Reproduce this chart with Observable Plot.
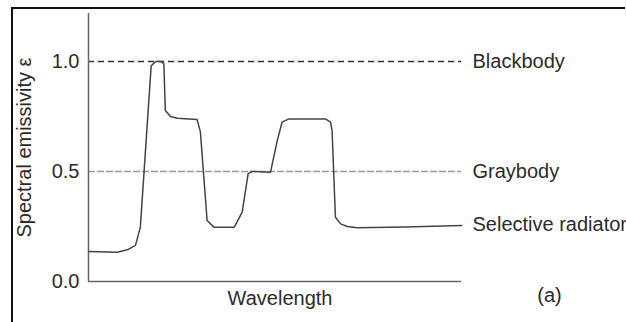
<!DOCTYPE html>
<html>
<head>
<meta charset="utf-8">
<script src="https://cdn.jsdelivr.net/npm/d3@7"></script>
<script src="https://cdn.jsdelivr.net/npm/@observablehq/plot@0.6"></script>
<style>
  html, body { margin: 0; padding: 0; background: #fff; }
  #wrap { position: relative; width: 626px; height: 322px; overflow: hidden; }
  #wrap svg { position: absolute; left: 0; top: 0; }
  #border { position: absolute; left: 11px; top: 7px; width: 612px; height: 320px;
            border-top: 2px solid #111; border-left: 2px solid #111; pointer-events: none; }
</style>
</head>
<body>
<div id="wrap"><div id="border"></div></div>
<script>
// Wavelength positions (arbitrary units, 0–100) and emissivity of the selective radiator
const wavelength = [0, 7.7, 10.4, 12.6, 13.9, 16.8, 18.0, 19.3, 20.2, 20.6, 22.0, 23.8, 29.1, 30.0, 31.8, 33.6, 39.1, 41.2, 42.8, 43.9, 48.8, 50.6, 51.9, 53.7, 63.5, 64.9, 65.3, 66.2, 67.6, 69.4, 72.0, 85.0, 100];
const emissivity = [0.136, 0.133, 0.144, 0.164, 0.247, 0.98, 1.0, 1.0, 0.99, 0.777, 0.75, 0.742, 0.736, 0.68, 0.277, 0.247, 0.247, 0.315, 0.49, 0.5, 0.497, 0.64, 0.724, 0.739, 0.739, 0.724, 0.686, 0.292, 0.262, 0.25, 0.244, 0.248, 0.254];

// Reference levels and their labels
const levelNames = ["Blackbody", "Graybody", "Selective radiator"];
const levelValues = [1.0, 0.5, 0.259];

const yTicks = [0.0, 0.5, 1.0];
const xLabel = "Wavelength";
const yLabel = "Spectral emissivity ε";
const panelLabel = "(a)";

const curve = wavelength.map((x, i) => ({x, y: emissivity[i]}));
const levels = levelNames.map((name, i) => ({name, y: levelValues[i]}));

const font = "'Liberation Sans', Arial, Helvetica, sans-serif";
const textColor = "#2b2b2b";
const fs = 20;

const chart = Plot.plot({
  width: 626,
  height: 322,
  marginLeft: 88,
  marginRight: 165,
  marginTop: 13,
  marginBottom: 41,
  style: {fontFamily: font, fontSize: fs + "px", color: textColor, background: "transparent"},
  x: {domain: [0, 100], axis: null},
  y: {domain: [0, 1.218], axis: null},
  marks: [
    Plot.axisY(yTicks, {tickSize: 0, tickPadding: 9, tickFormat: d3.format(".1f"), fontSize: fs, fill: textColor, label: null}),
    Plot.ruleY([levelValues[0]], {x1: 0, x2: 100, stroke: "#333", strokeWidth: 1.4, strokeDasharray: "6,4"}),
    Plot.ruleY([levelValues[1]], {x1: 0, x2: 100, stroke: "#9a9a9a", strokeWidth: 1.3, strokeDasharray: "7,2"}),
    Plot.ruleX([0], {y1: 0, y2: 1.218, stroke: "#666", strokeWidth: 1.5}),
    Plot.ruleY([0], {x1: 0, x2: 100, stroke: "#666", strokeWidth: 1.5}),
    Plot.line(curve, {x: "x", y: "y", stroke: "#444", strokeWidth: 1.5, strokeLinejoin: "round"}),
    Plot.text(levels, {x: 100, y: "y", text: "name", textAnchor: "start", dx: 11, fontSize: fs, fill: textColor}),
    Plot.text([xLabel], {frameAnchor: "bottom", dx: 5, dy: 23, fontSize: fs, fill: textColor}),
    Plot.text([yLabel], {frameAnchor: "left", textAnchor: "middle", dx: -64, rotate: -90, fontSize: fs, fill: textColor}),
    Plot.text([panelLabel], {frameAnchor: "bottom-right", textAnchor: "middle", dx: 88, dy: 20, fontSize: fs, fill: textColor})
  ]
});
document.getElementById("wrap").prepend(chart);
</script>
</body>
</html>
